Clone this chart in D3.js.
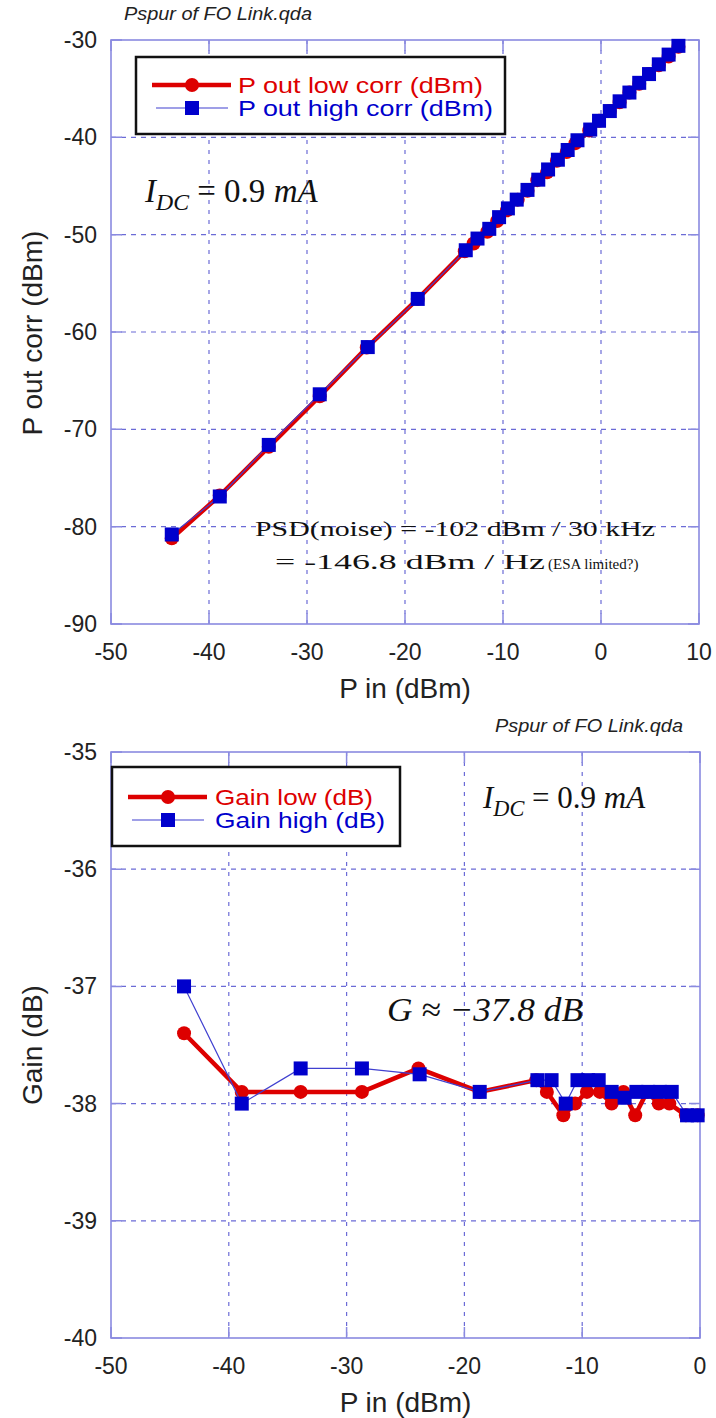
<!DOCTYPE html>
<html>
<head>
<meta charset="utf-8">
<script src="https://cdn.jsdelivr.net/npm/d3@7"></script>
<style>
  body { margin: 0; background: #fff; }
</style>
</head>
<body>
<div id="chart"></div>
<script>
// top panel: P out corr vs P in
const pinLow  = [-43.8, -38.9, -33.9, -28.7, -23.9, -18.7, -13.9, -13.0, -11.6, -10.6, -9.6, -8.5, -7.5, -6.5, -5.5, -4.5, -3.5, -2.6, -1.2, -0.2, 0.9, 1.9, 2.9, 3.9, 4.9, 5.9, 6.9, 7.9];
const poutLow = [-81.2, -76.8, -71.8, -66.6, -61.6, -56.6, -51.7, -50.9, -49.7, -48.6, -47.5, -46.4, -45.5, -44.4, -43.6, -42.4, -41.5, -40.6, -39.3, -38.3, -37.3, -36.4, -35.4, -34.5, -33.5, -32.6, -31.7, -30.7];
const pinHigh  = [-43.8, -38.9, -33.9, -28.7, -23.8, -18.7, -13.8, -12.6, -11.4, -10.4, -9.5, -8.6, -7.5, -6.4, -5.4, -4.4, -3.4, -2.4, -1.1, -0.2, 0.9, 1.9, 2.9, 3.9, 4.9, 5.9, 6.9, 7.9];
const poutHigh = [-80.8, -76.9, -71.6, -66.4, -61.55, -56.6, -51.6, -50.4, -49.4, -48.2, -47.3, -46.4, -45.4, -44.35, -43.3, -42.3, -41.3, -40.3, -39.2, -38.3, -37.3, -36.3, -35.4, -34.4, -33.5, -32.5, -31.5, -30.6];

// bottom panel: gain vs P in
const gainPinLow  = [-43.8, -38.9, -33.9, -28.7, -23.9, -18.7, -13.9, -13.0, -11.6, -10.6, -9.6, -8.5, -7.5, -6.5, -5.5, -4.5, -3.5, -2.6, -1.2, -0.2];
const gainLow     = [-37.4, -37.9, -37.9, -37.9, -37.7, -37.9, -37.8, -37.9, -38.1, -38.0, -37.9, -37.9, -38.0, -37.9, -38.1, -37.9, -38.0, -38.0, -38.1, -38.1];
const gainPinHigh = [-43.8, -38.9, -33.9, -28.7, -23.8, -18.7, -13.8, -12.6, -11.4, -10.4, -9.5, -8.6, -7.5, -6.4, -5.4, -4.4, -3.4, -2.4, -1.1, -0.2];
const gainHigh    = [-37.0, -38.0, -37.7, -37.7, -37.75, -37.9, -37.8, -37.8, -38.0, -37.8, -37.8, -37.8, -37.9, -37.95, -37.9, -37.9, -37.9, -37.9, -38.1, -38.1];

const topXTicks = [-50, -40, -30, -20, -10, 0, 10];
const topYTicks = [-30, -40, -50, -60, -70, -80, -90];
const botXTicks = [-50, -40, -30, -20, -10, 0];
const botYTicks = [-35, -36, -37, -38, -39, -40];

const RED = "#dd0000", BLUE = "#0000cc", FRAME = "#8a8ae0", GRID = "#6b6bd6";
const SANS = "'Liberation Sans', Arial, sans-serif";
const SERIF = "'Liberation Serif', 'Times New Roman', serif";

const svg = d3.select("#chart").append("svg")
    .attr("width", 716).attr("height", 1418)
    .attr("font-family", SANS);
svg.append("rect").attr("width", 716).attr("height", 1418).attr("fill", "#fff");

function panel(cfg) {
  const x = d3.scaleLinear().domain(cfg.xDomain).range([cfg.left, cfg.right]);
  const y = d3.scaleLinear().domain(cfg.yDomain).range([cfg.bottom, cfg.top]);
  const g = svg.append("g");

  // dashed grid
  g.append("g").selectAll("line")
    .data(cfg.xTicks.slice(1, -1)).join("line")
    .attr("x1", d => x(d)).attr("x2", d => x(d))
    .attr("y1", cfg.top).attr("y2", cfg.bottom)
    .attr("stroke", GRID).attr("stroke-width", 1.2).attr("stroke-dasharray", "4,6");
  g.append("g").selectAll("line")
    .data(cfg.yTicks.slice(1, -1)).join("line")
    .attr("y1", d => y(d)).attr("y2", d => y(d))
    .attr("x1", cfg.left).attr("x2", cfg.right)
    .attr("stroke", GRID).attr("stroke-width", 1.2).attr("stroke-dasharray", "5,5");

  // inner ticks
  const tk = 11;
  g.append("g").selectAll("path")
    .data(cfg.xTicks).join("path")
    .attr("d", d => `M${x(d)},${cfg.top}v${tk}M${x(d)},${cfg.bottom}v${-tk}`)
    .attr("stroke", FRAME).attr("stroke-width", 1.5);
  g.append("g").selectAll("path")
    .data(cfg.yTicks).join("path")
    .attr("d", d => `M${cfg.left},${y(d)}h${tk}M${cfg.right},${y(d)}h${-tk}`)
    .attr("stroke", FRAME).attr("stroke-width", 1.5);

  g.append("rect")
    .attr("x", cfg.left).attr("y", cfg.top)
    .attr("width", cfg.right - cfg.left).attr("height", cfg.bottom - cfg.top)
    .attr("fill", "none").attr("stroke", FRAME).attr("stroke-width", 1.6);

  // tick labels
  g.append("g").selectAll("text")
    .data(cfg.xTicks).join("text")
    .attr("x", d => x(d)).attr("y", cfg.bottom + 36)
    .attr("text-anchor", "middle").attr("font-size", 23).attr("fill", "#222")
    .text(d => d);
  g.append("g").selectAll("text")
    .data(cfg.yTicks).join("text")
    .attr("x", cfg.left - 14).attr("y", d => y(d) + 8)
    .attr("text-anchor", "end").attr("font-size", 23).attr("fill", "#222")
    .text(d => d);

  // axis titles
  g.append("text")
    .attr("x", (cfg.left + cfg.right) / 2).attr("y", cfg.bottom + 74)
    .attr("text-anchor", "middle").attr("font-size", 28).attr("fill", "#222")
    .text(cfg.xTitle);
  g.append("text")
    .attr("transform", `translate(42,${cfg.yTitleY}) rotate(-90)`)
    .attr("text-anchor", "middle").attr("font-size", 28).attr("fill", "#222")
    .text(cfg.yTitle);

  // file tag
  g.append("text")
    .attr("x", cfg.tagX).attr("y", cfg.top - 20)
    .attr("font-size", 18).attr("font-style", "italic").attr("fill", "#222")
    .attr("textLength", 188).attr("lengthAdjust", "spacingAndGlyphs")
    .text("Pspur of FO Link.qda");

  // series
  const clip = "clip" + cfg.id;
  svg.append("clipPath").attr("id", clip).append("rect")
    .attr("x", cfg.left - 8).attr("y", cfg.top - 8)
    .attr("width", cfg.right - cfg.left + 16).attr("height", cfg.bottom - cfg.top + 16);
  const data = g.append("g").attr("clip-path", `url(#${clip})`);

  const low = cfg.lowX.map((v, i) => [v, cfg.lowY[i]]);
  const high = cfg.highX.map((v, i) => [v, cfg.highY[i]]);
  const line = d3.line().x(d => x(d[0])).y(d => y(d[1]));

  data.append("path").datum(low).attr("d", line)
    .attr("fill", "none").attr("stroke", RED).attr("stroke-width", 4.5).attr("stroke-linejoin", "round");
  data.append("g").selectAll("circle").data(low).join("circle")
    .attr("cx", d => x(d[0])).attr("cy", d => y(d[1])).attr("r", 7).attr("fill", RED);

  data.append("path").datum(high).attr("d", line)
    .attr("fill", "none").attr("stroke", "#4040d0").attr("stroke-width", 1.2);
  data.append("g").selectAll("rect").data(high).join("rect")
    .attr("x", d => x(d[0]) - 7).attr("y", d => y(d[1]) - 7)
    .attr("width", 14).attr("height", 14).attr("fill", BLUE);

  // legend
  const L = cfg.legend;
  g.append("rect").attr("x", L.x).attr("y", L.y).attr("width", L.w).attr("height", L.h)
    .attr("fill", "#fff").attr("stroke", "#111").attr("stroke-width", 2.5);
  g.append("line").attr("x1", L.x + 16).attr("x2", L.x + 95)
    .attr("y1", L.y + L.r1).attr("y2", L.y + L.r1)
    .attr("stroke", RED).attr("stroke-width", 4.5);
  g.append("circle").attr("cx", L.x + 56).attr("cy", L.y + L.r1).attr("r", 7).attr("fill", RED);
  g.append("line").attr("x1", L.x + 20).attr("x2", L.x + 92)
    .attr("y1", L.y + L.r2).attr("y2", L.y + L.r2)
    .attr("stroke", "#4040d0").attr("stroke-width", 1.2);
  g.append("rect").attr("x", L.x + 49).attr("y", L.y + L.r2 - 7)
    .attr("width", 14).attr("height", 14).attr("fill", BLUE);
  g.append("text").attr("x", L.x + L.tx).attr("y", L.y + L.r1 + 8)
    .attr("font-size", L.fs).attr("fill", RED)
    .attr("textLength", L.len1).attr("lengthAdjust", "spacingAndGlyphs").text(L.t1);
  g.append("text").attr("x", L.x + L.tx).attr("y", L.y + L.r2 + 8)
    .attr("font-size", L.fs).attr("fill", BLUE)
    .attr("textLength", L.len2).attr("lengthAdjust", "spacingAndGlyphs").text(L.t2);

  return g;
}

const g1 = panel({
  id: 1, left: 111, right: 699, top: 40, bottom: 624,
  xDomain: [-50, 10], yDomain: [-90, -30],
  xTicks: topXTicks, yTicks: topYTicks,
  xTitle: "P in (dBm)", yTitle: "P out corr (dBm)", yTitleY: 333, tagX: 124,
  lowX: pinLow, lowY: poutLow, highX: pinHigh, highY: poutHigh,
  legend: { x: 136, y: 57, w: 369, h: 77, r1: 28, r2: 51, tx: 102, fs: 22,
            t1: "P out low corr (dBm)", t2: "P out high corr (dBm)", len1: 245, len2: 255 }
});

const g2 = panel({
  id: 2, left: 111, right: 700, top: 752, bottom: 1338,
  xDomain: [-50, 0], yDomain: [-40, -35],
  xTicks: botXTicks, yTicks: botYTicks,
  xTitle: "P in (dBm)", yTitle: "Gain (dB)", yTitleY: 1045, tagX: 495,
  lowX: gainPinLow, lowY: gainLow, highX: gainPinHigh, highY: gainHigh,
  legend: { x: 112, y: 767, w: 288, h: 79, r1: 30, r2: 53, tx: 103, fs: 22,
            t1: "Gain low (dB)", t2: "Gain high (dB)", len1: 158, len2: 170 }
});

// annotations
function idc(g, x0, y0, fs) {
  const t = g.append("text").attr("x", x0).attr("y", y0)
    .attr("font-family", SERIF)
    .attr("font-size", fs).attr("fill", "#111");
  t.append("tspan").attr("font-style", "italic").text("I");
  t.append("tspan").attr("font-style", "italic").attr("font-size", fs * 0.72).attr("dy", fs * 0.25).text("DC");
  t.append("tspan").attr("dy", -fs * 0.25).text(" = 0.9 ");
  t.append("tspan").attr("font-style", "italic").text("mA");
}
idc(g1, 145, 202, 33);
idc(g2, 483, 808, 31);

g1.append("text").attr("x", 255).attr("y", 536)
  .attr("font-family", SERIF)
  .attr("font-size", 22).attr("fill", "#111")
  .attr("textLength", 400).attr("lengthAdjust", "spacingAndGlyphs")
  .text("PSD(noise) = -102 dBm / 30 kHz");
const psd2 = g1.append("text").attr("x", 275).attr("y", 569)
  .attr("font-family", SERIF)
  .attr("fill", "#111");
psd2.append("tspan").attr("font-size", 22).attr("textLength", 270).attr("lengthAdjust", "spacingAndGlyphs")
  .text("= -146.8 dBm / Hz");
psd2.append("tspan").attr("font-size", 15).attr("dx", 3)
  .text("(ESA limited?)");

g2.append("text").attr("x", 387).attr("y", 1021)
  .attr("font-family", SERIF)
  .attr("font-size", 34).attr("font-style", "italic").attr("fill", "#111")
  .attr("textLength", 196).attr("lengthAdjust", "spacingAndGlyphs")
  .text("G \u2248 \u221237.8 dB");
</script>
</body>
</html>
